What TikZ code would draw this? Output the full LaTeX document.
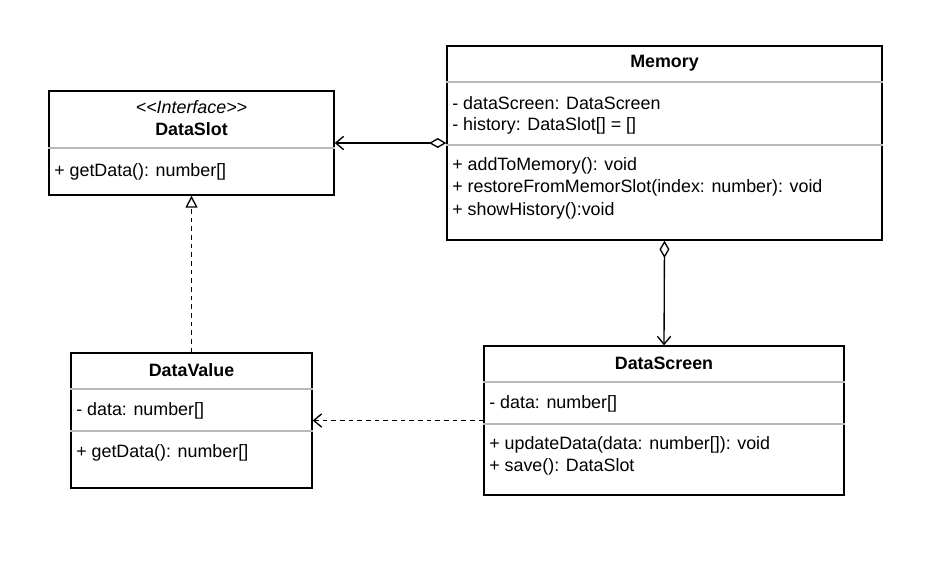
\documentclass[tikz,border=0pt]{standalone}
\usepackage{fontspec}
\setmainfont{Liberation Sans}
\usetikzlibrary{arrows.meta}
\tikzset{
  classbox/.style={draw=black, line width=1pt, fill=white, rectangle, inner sep=0pt},
  txt/.style={anchor=west, inner sep=0pt, font=\fontsize{13.4pt}{15pt}\selectfont},
  ttl/.style={anchor=center, inner sep=0pt, font=\fontsize{13.4pt}{15pt}\selectfont\bfseries},
  sep/.style={draw=gray!55, line width=1pt},
  conn/.style={draw=black, line width=1pt},
  agg/.style={{Diamond[open,length=13pt,width=7.5pt]}-{Straight Barb[length=6pt,width=10pt]}},
}
\begin{document}
\begin{tikzpicture}[x=0.75pt,y=-0.75pt]
\useasboundingbox[fill=white] (0,0) rectangle (934,570);
% boxes
\node[classbox, minimum width=213.75pt, minimum height=78pt] (dataslot) at (191.5,143) {};
\node[classbox, minimum width=326.25pt, minimum height=145.5pt] (memory) at (664.5,143) {};
\node[classbox, minimum width=180.75pt, minimum height=101.25pt] (datavalue) at (191.5,420.5) {};
\node[classbox, minimum width=270pt, minimum height=111.75pt] (datascreen) at (664,420.5) {};
% DataSlot
\node[anchor=center, inner sep=0pt, font=\fontsize{13.4pt}{15pt}\selectfont\itshape] (dsster) at (191.5,107) {<\kern0pt<Interface>\kern0pt>};
\node[ttl] (dstitle) at (191.5,129.5) {DataSlot};
\draw[sep] (dataslot.west |- 0,148) -- (dataslot.east |- 0,148);
\node[txt] (dsm1) at (54,171.5) {+ getData(): number[]};
% Memory
\node[ttl] (memtitle) at (664.5,63.5) {Memory};
\draw[sep] (memory.west |- 0,82) -- (memory.east |- 0,82);
\node[txt] (mema1) at (452,103.5) {- dataScreen: DataScreen};
\node[txt] (mema2) at (452,126) {- history: DataSlot[] = []};
\draw[sep] (memory.west |- 0,145) -- (memory.east |- 0,145);
\node[txt] (memm1) at (452,165.5) {+ addToMemory(): void};
\node[txt] (memm2) at (452,188) {+ restoreFromMemorSlot(index: number): void};
\node[txt] (memm3) at (452,210.5) {+ showHistory():void};
% DataValue
\node[ttl] (dvtitle) at (191.5,370) {DataValue};
\draw[sep] (datavalue.west |- 0,389) -- (datavalue.east |- 0,389);
\node[txt] (dva1) at (76,411) {- data: number[]};
\draw[sep] (datavalue.west |- 0,431) -- (datavalue.east |- 0,431);
\node[txt] (dvm1) at (76,453) {+ getData(): number[]};
% DataScreen
\node[ttl] (dstitle2) at (664,363) {DataScreen};
\draw[sep] (datascreen.west |- 0,382) -- (datascreen.east |- 0,382);
\node[txt] (dsca1) at (489,403.5) {- data: number[]};
\draw[sep] (datascreen.west |- 0,424) -- (datascreen.east |- 0,424);
\node[txt] (dscm1) at (489,444.5) {+ updateData(data: number[]): void};
\node[txt] (dscm2) at (489,466.5) {+ save(): DataSlot};
% connectors
\draw[conn, agg] (memory.west) -- (dataslot.east);
\draw[conn, agg] (memory.south) -- (datascreen.north);
\draw[conn, dash pattern=on 3.5pt off 3pt, -{Triangle[open,length=9pt,width=9pt]}] (datavalue.north) -- (dataslot.south);
\draw[conn, dash pattern=on 3.5pt off 3pt, -{Straight Barb[length=6pt,width=10pt]}] (datascreen.west) -- (datavalue.east);
\end{tikzpicture}
\end{document}
